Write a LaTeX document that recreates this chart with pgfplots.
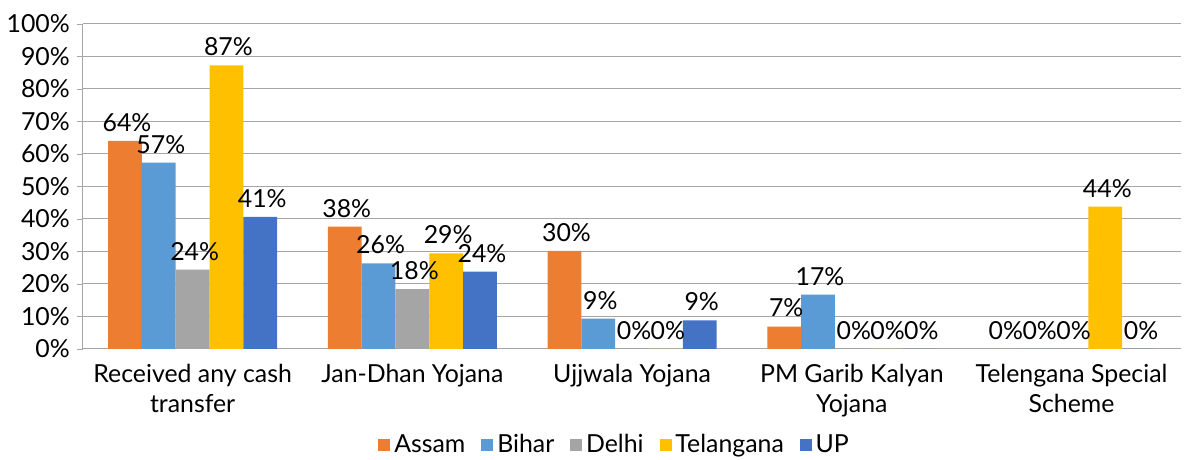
\documentclass[border=0pt]{standalone}
\usepackage{fontspec}
\setmainfont{Lato}
\usepackage{pgfplots}
\pgfplotsset{compat=1.18}
\definecolor{cA}{HTML}{ED7D31}
\definecolor{cB}{HTML}{5B9BD5}
\definecolor{cD}{HTML}{A5A5A5}
\definecolor{cT}{HTML}{FFC000}
\definecolor{cU}{HTML}{4472C4}
\definecolor{gridc}{HTML}{A6A6A6}
\newcommand{\fs}{\fontsize{12.5}{15}\selectfont}
\begin{document}
\begin{tikzpicture}
\begin{axis}[
  scale only axis, width=552.5pt, height=163.5pt,
  ybar=0pt, bar width=17pt,
  ymin=0, ymax=100, ytick={0,10,...,100},
  xmin=-0.5, xmax=4.5,
  xtick={0,...,4},
  xticklabels={{Received any cash\\transfer},{Jan-Dhan Yojana},{Ujjwala Yojana},{PM Garib Kalyan\\Yojana},{Telengana Special\\Scheme}},
  xticklabel style={align=center, font=\fs, yshift=-1pt},
  yticklabel style={font=\fs},
  yticklabel={\pgfmathprintnumber{\tick}\%},
  /pgf/number format/assume math mode=true,
  major x tick style={draw=none},
  extra x ticks={-0.5,0.5,1.5,2.5,3.5,4.5},
  extra x tick labels={},
  extra x tick style={grid=none, major tick length=4pt, tick style={draw=gridc, thin}, tick align=outside},
  ymajorgrids, grid style={gridc, line width=0.5pt},
  axis lines*=left,
  axis line style={gridc, line width=0.5pt},
  ytick style={draw=gridc}, tick align=outside, major tick length=3pt,
  ytick pos=left,
  nodes near coords={\pgfmathprintnumber[fixed,precision=0]{\pgfplotspointmeta}\%},
  every node near coord/.append style={font=\fs, black, inner sep=2pt, yshift=2.5pt, xshift=1pt},
  legend style={at={(0.485,-0.25)}, anchor=north, draw=none, legend columns=-1, font=\fs,
    inner sep=0pt, /tikz/every even column/.append style={column sep=6pt}},
  legend image code/.code={\fill[#1] (0pt,-3pt) rectangle (6pt,3pt);},
  clip=false,
]
\addplot[fill=cA, draw=none] coordinates {(0,64.0) (1,37.6) (2,30.2) (3,6.9) (4,0)};
\addplot[fill=cB, draw=none] coordinates {(0,57.3) (1,26.3) (2,9.3) (3,16.7) (4,0)};
\addplot[fill=cD, draw=none] coordinates {(0,24.4) (1,18.4) (2,0) (3,0) (4,0)};
\addplot[fill=cT, draw=none] coordinates {(0,87.2) (1,29.4) (2,0) (3,0) (4,43.8)};
\addplot[fill=cU, draw=none] coordinates {(0,40.6) (1,23.8) (2,8.8) (3,0) (4,0)};
\legend{Assam,Bihar,Delhi,Telangana,UP}
\path (rel axis cs:0,1) -- ++(0,12pt);
\end{axis}
\end{tikzpicture}
\end{document}
